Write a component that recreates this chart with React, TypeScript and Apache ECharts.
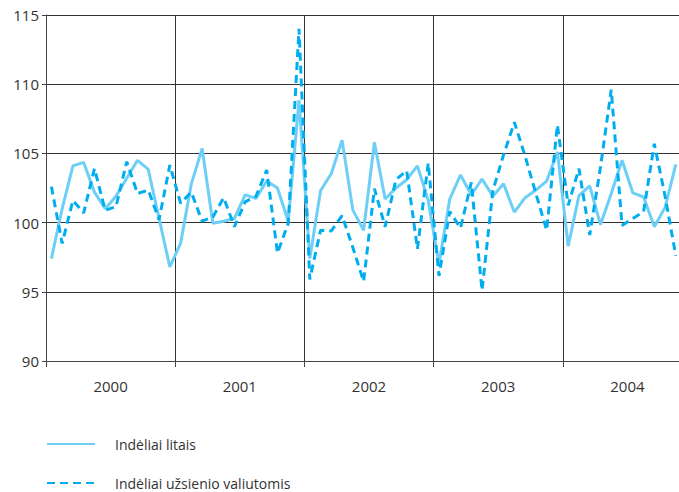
import React, { useEffect, useRef } from "react";
import * as echarts from "echarts";

const years = ["2000", "2001", "2002", "2003", "2004"];
const monthNames = ["01", "02", "03", "04", "05", "06", "07", "08", "09", "10", "11", "12"];
const monthCategories = years.flatMap((y) => monthNames.map((m) => `${y}-${m}`));

const yTicks = [90, 95, 100, 105, 110, 115];

const litaiName = "Indėliai litais";
const valiutaName = "Indėliai užsienio valiutomis";

// Monthly index values, Jan 2000 .. Nov 2004
const litai = [
  97.4, 101.0, 104.1, 104.35, 102.2, 101.0, 101.9, 103.2, 104.5, 103.85, 100.3, 96.8,
  98.5, 102.8, 105.35, 99.95, 100.1, 100.3, 102.0, 101.75, 103.0, 102.5, 100.1, 108.85,
  97.4, 102.3, 103.55, 105.95, 100.9, 99.45, 105.8, 101.7, 102.5, 103.1, 104.1, 101.6,
  97.0, 101.7, 103.45, 102.0, 103.15, 101.9, 102.8, 100.75, 101.8, 102.35, 103.0, 105.1,
  98.3, 101.95, 102.65, 99.85, 102.1, 104.5, 102.15, 101.85, 99.7, 101.1, 104.2,
];
const valiuta = [
  102.6, 98.5, 101.6, 100.7, 103.9, 100.9, 101.15, 104.4, 102.1, 102.35, 100.2, 104.15,
  101.4, 102.2, 100.1, 100.4, 101.8, 99.7, 101.5, 101.9, 103.8, 97.8, 99.95, 114.0,
  95.9, 99.45, 99.4, 100.5, 98.2, 95.75, 102.45, 99.7, 103.1, 103.75, 98.1, 104.3,
  96.15, 100.8, 99.6, 102.9, 95.1, 102.3, 104.9, 107.25, 104.8, 102.1, 99.45, 107.05,
  101.25, 103.9, 99.1, 104.0, 109.6, 99.8, 100.3, 100.77, 105.7, 101.9, 97.6,
];

const FONT = "'Open Sans', 'Noto Sans', sans-serif";

const legendBase = {
  orient: "horizontal",
  left: 46,
  padding: 0,
  itemWidth: 48,
  itemHeight: 14,
  itemStyle: { opacity: 0 },
  textStyle: {
    fontFamily: FONT,
    fontSize: 14,
    lineHeight: 16,
    color: "#333",
    padding: [0, 0, 0, 15],
  },
};

export default function App() {
  const ref = useRef<HTMLDivElement>(null);

  useEffect(() => {
    if (!ref.current) return;
    const chart = echarts.init(ref.current, null, { renderer: "svg" });
    chart.setOption({
      animation: false,
      backgroundColor: "#ffffff",
      textStyle: { fontFamily: FONT },
      grid: {
        left: 46,
        top: 15,
        width: 646,
        height: 346,
        containLabel: false,
        outerBoundsMode: "none",
      },
      legend: [
        { ...legendBase, top: 436, data: [litaiName] },
        { ...legendBase, top: 475, data: [valiutaName] },
      ],
      xAxis: [
        {
          type: "category",
          data: monthCategories,
          boundaryGap: true,
          show: false,
        },
        {
          type: "category",
          data: years,
          boundaryGap: true,
          position: "bottom",
          axisLine: { show: true, lineStyle: { color: "#444", width: 1 } },
          axisTick: { show: true, inside: false, length: 6, interval: 0, lineStyle: { color: "#444" } },
          splitLine: { show: true, interval: 0, lineStyle: { color: "#333", width: 1 } },
          axisLabel: { fontFamily: FONT, fontSize: 15, color: "#333", margin: 17, interval: 0 },
        },
      ],
      yAxis: {
        type: "value",
        min: yTicks[0],
        max: yTicks[yTicks.length - 1],
        interval: 5,
        axisLine: { show: true, lineStyle: { color: "#444", width: 1 } },
        axisTick: { show: true, length: 4, lineStyle: { color: "#444" } },
        splitLine: { show: true, lineStyle: { color: "#333", width: 1 } },
        axisLabel: { fontFamily: FONT, fontSize: 15, color: "#333", margin: 7 },
      },
      series: [
        {
          name: litaiName,
          type: "line",
          xAxisIndex: 0,
          data: litai,
          symbol: "none",
          lineStyle: { color: "#6dcff6", width: 3, type: "solid" },
          itemStyle: { color: "#6dcff6" },
          z: 3,
        },
        {
          name: valiutaName,
          type: "line",
          xAxisIndex: 0,
          data: valiuta,
          symbol: "none",
          lineStyle: { color: "#00aeef", width: 3, type: [8, 5] },
          itemStyle: { color: "#00aeef" },
          z: 4,
        },
      ],
    });
    return () => chart.dispose();
  }, []);

  return (
    <div
      ref={ref}
      style={{ position: "fixed", left: 0, top: 0, width: 679, height: 492, background: "#fff" }}
    />
  );
}
